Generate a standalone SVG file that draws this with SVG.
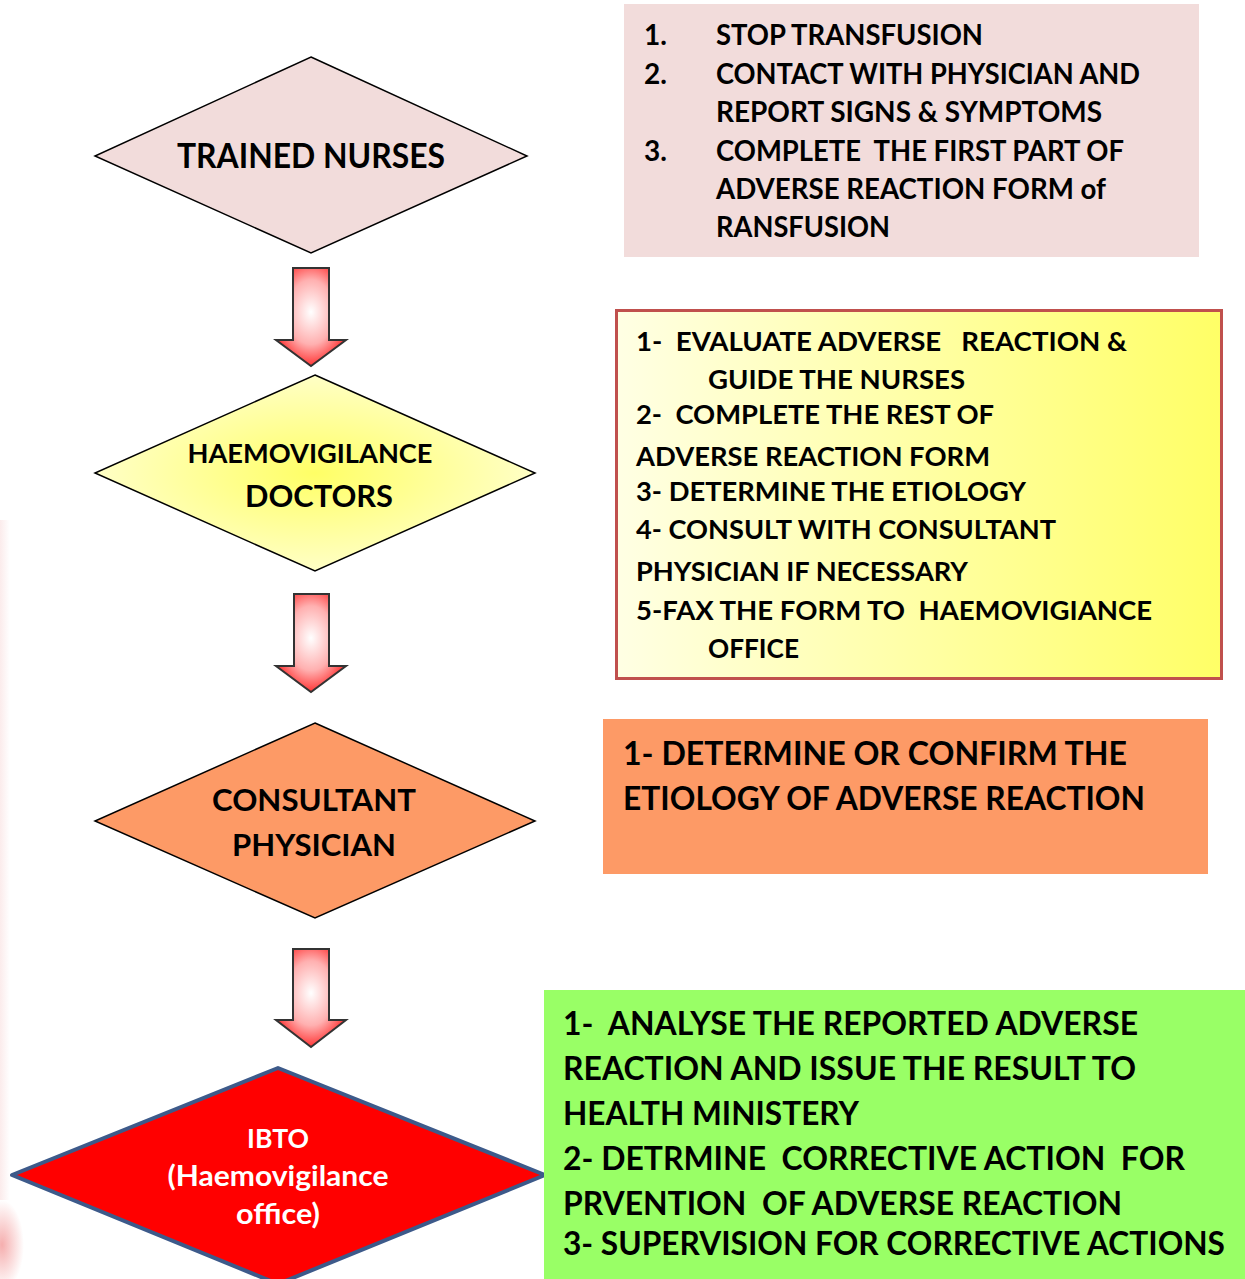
<svg xmlns="http://www.w3.org/2000/svg" width="1245" height="1279" viewBox="0 0 1245 1279">
<defs>
<style>
text{font-family:Lato,"Open Sans","Liberation Sans",sans-serif;font-weight:bold;fill:#000;white-space:pre}
.dia{stroke:#000;stroke-width:1.5;stroke-linejoin:miter}
.arrow{fill:url(#arrowGrad);stroke:#333;stroke-width:2;stroke-linejoin:miter}
.t1{font-size:28px}
.t2{font-size:27px}
.t3{font-size:32px}
.t4{font-size:31.5px}
.mid{text-anchor:middle}
</style>
<radialGradient id="arrowGrad" cx="0.5" cy="0.45" r="0.6">
<stop offset="0" stop-color="#ffffff"/>
<stop offset="0.55" stop-color="#ffb0b0"/>
<stop offset="1" stop-color="#ff1a1a"/>
</radialGradient>
<radialGradient id="docGrad" cx="0.5" cy="0.5" r="0.55">
<stop offset="0" stop-color="#ffff66"/>
<stop offset="1" stop-color="#ffffd0"/>
</radialGradient>
<linearGradient id="box2Grad" x1="0" y1="0" x2="1" y2="0">
<stop offset="0" stop-color="#ffffe4"/>
<stop offset="1" stop-color="#ffff66"/>
</linearGradient>
<radialGradient id="blob" cx="0.5" cy="0.5" r="0.5">
<stop offset="0" stop-color="#f4a5a5" stop-opacity="0.9"/>
<stop offset="1" stop-color="#f4a5a5" stop-opacity="0"/>
</radialGradient>
<linearGradient id="edge" x1="0" y1="0" x2="1" y2="0">
<stop offset="0" stop-color="#f8d8d8" stop-opacity="0.5"/>
<stop offset="1" stop-color="#f8d8d8" stop-opacity="0"/>
</linearGradient>
</defs>
<rect width="1245" height="1279" fill="#ffffff"/>
<rect x="0" y="520" width="10" height="680" fill="url(#edge)"/>
<ellipse cx="2" cy="1245" rx="22" ry="45" fill="url(#blob)"/>

<g id="connectors">
<path class="arrow" d="M293,268 H329 V340 H346 L311,366 L276,340 H293 Z"/>
<path class="arrow" d="M294,594 H329 V666 H346 L311,692 L276,666 H294 Z"/>
<path class="arrow" d="M293,949 H329 V1020 H346 L311,1047 L276,1020 H293 Z"/>
</g>

<g id="node-trained-nurses">
<polygon class="dia" points="311,57 527,156 311,253 95,156" fill="#f2dcdb"/>
<text class="mid" x="311" y="168" style="font-size:34px" textLength="268" lengthAdjust="spacingAndGlyphs">TRAINED NURSES</text>
</g>

<g id="node-haemovigilance-doctors">
<polygon class="dia" points="315,375 535,473 315,571 95,473" fill="url(#docGrad)"/>
<text class="mid" x="310" y="463" style="font-size:26px" textLength="245" lengthAdjust="spacingAndGlyphs">HAEMOVIGILANCE</text>
<text class="mid" x="319" y="507" style="font-size:31px" textLength="148" lengthAdjust="spacingAndGlyphs">DOCTORS</text>
</g>

<g id="node-consultant-physician">
<polygon class="dia" points="315,723 535,821 315,918 95,821" fill="#fd9a66"/>
<text class="mid" x="314" y="811" style="font-size:31px" textLength="204" lengthAdjust="spacingAndGlyphs">CONSULTANT</text>
<text class="mid" x="314" y="856" style="font-size:31px" textLength="164" lengthAdjust="spacingAndGlyphs">PHYSICIAN</text>
</g>

<g id="node-ibto">
<polygon points="278,1068 545,1175 278,1284 12,1175" fill="#ff0000" stroke="#3d5a8a" stroke-width="4" stroke-linejoin="round"/>
<text class="mid" x="278" y="1148" style="font-size:27px;fill:#fff" textLength="62" lengthAdjust="spacingAndGlyphs">IBTO</text>
<text class="mid" x="278" y="1186" style="font-size:28px;fill:#fff" textLength="221" lengthAdjust="spacingAndGlyphs">(Haemovigilance</text>
<text class="mid" x="278" y="1224" style="font-size:28px;fill:#fff" textLength="84" lengthAdjust="spacingAndGlyphs">office)</text>
</g>

<g id="box-nurse-tasks">
<rect x="624" y="4" width="575" height="253" fill="#f2dcdb"/>
<text class="t1" x="644" y="45">1.</text>
<text class="t1" x="716" y="45" textLength="267" lengthAdjust="spacingAndGlyphs">STOP TRANSFUSION</text>
<text class="t1" x="644" y="84">2.</text>
<text class="t1" x="716" y="84" textLength="424" lengthAdjust="spacingAndGlyphs">CONTACT WITH PHYSICIAN AND</text>
<text class="t1" x="716" y="122" textLength="386" lengthAdjust="spacingAndGlyphs">REPORT SIGNS &amp; SYMPTOMS</text>
<text class="t1" x="644" y="161">3.</text>
<text class="t1" x="716" y="161" textLength="408" lengthAdjust="spacingAndGlyphs">COMPLETE  THE FIRST PART OF</text>
<text class="t1" x="716" y="199" textLength="390" lengthAdjust="spacingAndGlyphs">ADVERSE REACTION FORM of</text>
<text class="t1" x="716" y="237" textLength="174" lengthAdjust="spacingAndGlyphs">RANSFUSION</text>
</g>

<g id="box-doctor-tasks">
<rect x="616.5" y="310.5" width="605" height="368" fill="url(#box2Grad)" stroke="#c0504d" stroke-width="3"/>
<text class="t2" x="636" y="351" textLength="491" lengthAdjust="spacingAndGlyphs">1-  EVALUATE ADVERSE   REACTION &amp;</text>
<text class="t2" x="708" y="389" textLength="257" lengthAdjust="spacingAndGlyphs">GUIDE THE NURSES</text>
<text class="t2" x="636" y="424" textLength="358" lengthAdjust="spacingAndGlyphs">2-  COMPLETE THE REST OF</text>
<text class="t2" x="636" y="466" textLength="354" lengthAdjust="spacingAndGlyphs">ADVERSE REACTION FORM</text>
<text class="t2" x="636" y="501" textLength="390" lengthAdjust="spacingAndGlyphs">3- DETERMINE THE ETIOLOGY</text>
<text class="t2" x="636" y="539" textLength="420" lengthAdjust="spacingAndGlyphs">4- CONSULT WITH CONSULTANT</text>
<text class="t2" x="636" y="581" textLength="332" lengthAdjust="spacingAndGlyphs">PHYSICIAN IF NECESSARY</text>
<text class="t2" x="636" y="620" textLength="516" lengthAdjust="spacingAndGlyphs">5-FAX THE FORM TO  HAEMOVIGIANCE</text>
<text class="t2" x="708" y="658" textLength="91" lengthAdjust="spacingAndGlyphs">OFFICE</text>
</g>

<g id="box-consultant-tasks">
<rect x="603" y="719" width="605" height="155" fill="#fd9a66"/>
<text class="t3" x="623" y="765" textLength="504" lengthAdjust="spacingAndGlyphs">1- DETERMINE OR CONFIRM THE</text>
<text class="t3" x="623" y="810" textLength="522" lengthAdjust="spacingAndGlyphs">ETIOLOGY OF ADVERSE REACTION</text>
</g>

<g id="box-ibto-tasks">
<rect x="544" y="990" width="701" height="289" fill="#99ff66"/>
<text class="t4" x="563" y="1035" textLength="575" lengthAdjust="spacingAndGlyphs">1-  ANALYSE THE REPORTED ADVERSE</text>
<text class="t4" x="563" y="1080" textLength="573" lengthAdjust="spacingAndGlyphs">REACTION AND ISSUE THE RESULT TO</text>
<text class="t4" x="563" y="1125" textLength="296" lengthAdjust="spacingAndGlyphs">HEALTH MINISTERY</text>
<text class="t4" x="563" y="1170" textLength="622" lengthAdjust="spacingAndGlyphs">2- DETRMINE  CORRECTIVE ACTION  FOR</text>
<text class="t4" x="563" y="1215" textLength="559" lengthAdjust="spacingAndGlyphs">PRVENTION  OF ADVERSE REACTION</text>
<text class="t4" x="563" y="1255" textLength="662" lengthAdjust="spacingAndGlyphs">3- SUPERVISION FOR CORRECTIVE ACTIONS</text>
</g>
</svg>
